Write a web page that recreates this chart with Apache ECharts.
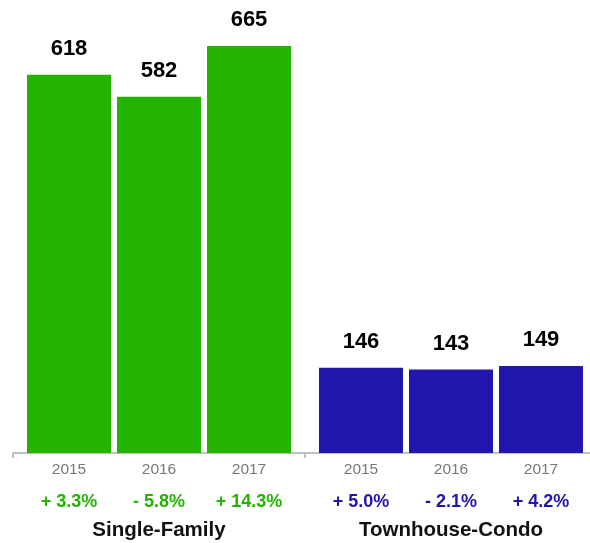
<!DOCTYPE html>
<html>
<head>
<meta charset="utf-8">
<script src="https://cdn.jsdelivr.net/npm/echarts@6/dist/echarts.min.js"></script>
<style>
html,body{margin:0;padding:0;background:#fff;}
#chart{width:590px;height:543px;}
</style>
</head>
<body>
<div id="chart"></div>
<script>
const groups = ['Single-Family', 'Townhouse-Condo'];
const years = ['2015', '2016', '2017'];
const singleFamily = [618, 582, 665];
const townhouseCondo = [146, 143, 149];
const singleFamilyChange = ['+ 3.3%', '- 5.8%', '+ 14.3%'];
const townhouseCondoChange = ['+ 5.0%', '- 2.1%', '+ 4.2%'];

const GREEN = '#22b400';
const BLUE = '#2116ab';
const FONT = '"Liberation Sans", Arial, Helvetica, sans-serif';
const BAR_W = 84;
const BAR_GAP = '7.14%';

const chart = echarts.init(document.getElementById('chart'), null, {renderer: 'canvas'});

const series = [];
years.forEach((yr, i) => {
  series.push({
    type: 'bar', name: 'SF ' + yr, xAxisIndex: 0, yAxisIndex: 0,
    data: [singleFamily[i], '-'],
    barWidth: BAR_W, barGap: BAR_GAP,
    itemStyle: {color: GREEN},
    label: {show: true, position: 'top', distance: 15, color: '#000',
      fontFamily: FONT, fontWeight: 'bold', fontSize: 22}
  });
});
years.forEach((yr, i) => {
  series.push({
    type: 'bar', name: 'TC ' + yr, xAxisIndex: 1, yAxisIndex: 1,
    data: ['-', townhouseCondo[i]],
    barWidth: BAR_W, barGap: BAR_GAP,
    itemStyle: {color: BLUE},
    label: {show: true, position: 'top', distance: 15, color: '#000',
      fontFamily: FONT, fontWeight: 'bold', fontSize: 22}
  });
});
years.forEach((yr, i) => {
  series.push({
    type: 'bar', name: 'lbl ' + yr, xAxisIndex: 2, yAxisIndex: 0,
    data: [0, 0],
    barWidth: BAR_W, barGap: BAR_GAP,
    itemStyle: {color: 'rgba(0,0,0,0)'},
    silent: true,
    label: {
      show: true, position: 'bottom', distance: 0,
      formatter: (p) => {
        const ch = p.dataIndex === 0 ? singleFamilyChange[i] : townhouseCondoChange[i];
        const st = p.dataIndex === 0 ? 'pg' : 'pb';
        return '{y|' + yr + '}\n{' + st + '|' + ch + '}';
      },
      rich: {
        y: {fontFamily: FONT, fontSize: 15.5, color: '#777', lineHeight: 34, align: 'center'},
        pg: {fontFamily: FONT, fontSize: 18, fontWeight: 'bold', color: GREEN, lineHeight: 30, align: 'center'},
        pb: {fontFamily: FONT, fontSize: 18, fontWeight: 'bold', color: BLUE, lineHeight: 30, align: 'center'}
      }
    }
  });
});

const hiddenX = {type: 'category', data: groups, show: false, gridIndex: 0};

chart.setOption({
  animation: false,
  backgroundColor: '#fff',
  grid: {left: 13, width: 584, top: 46, height: 407, containLabel: false, outerBoundsMode: 'none'},
  xAxis: [
    {
      type: 'category', data: groups, gridIndex: 0, offset: 2,
      axisLine: {show: true, lineStyle: {color: '#c0c0c0', width: 2}},
      axisTick: {show: true, length: 5, lineStyle: {color: '#c0c0c0', width: 2}},
      axisLabel: {margin: 65, color: '#111', fontFamily: FONT, fontWeight: 'bold', fontSize: 20.5}
    },
    Object.assign({}, hiddenX),
    Object.assign({}, hiddenX)
  ],
  yAxis: [
    {type: 'value', min: 0, max: 665, show: false, splitLine: {show: false}},
    {type: 'value', min: 0, max: 697, show: false, splitLine: {show: false}}
  ],
  series: series
});
</script>
</body>
</html>
